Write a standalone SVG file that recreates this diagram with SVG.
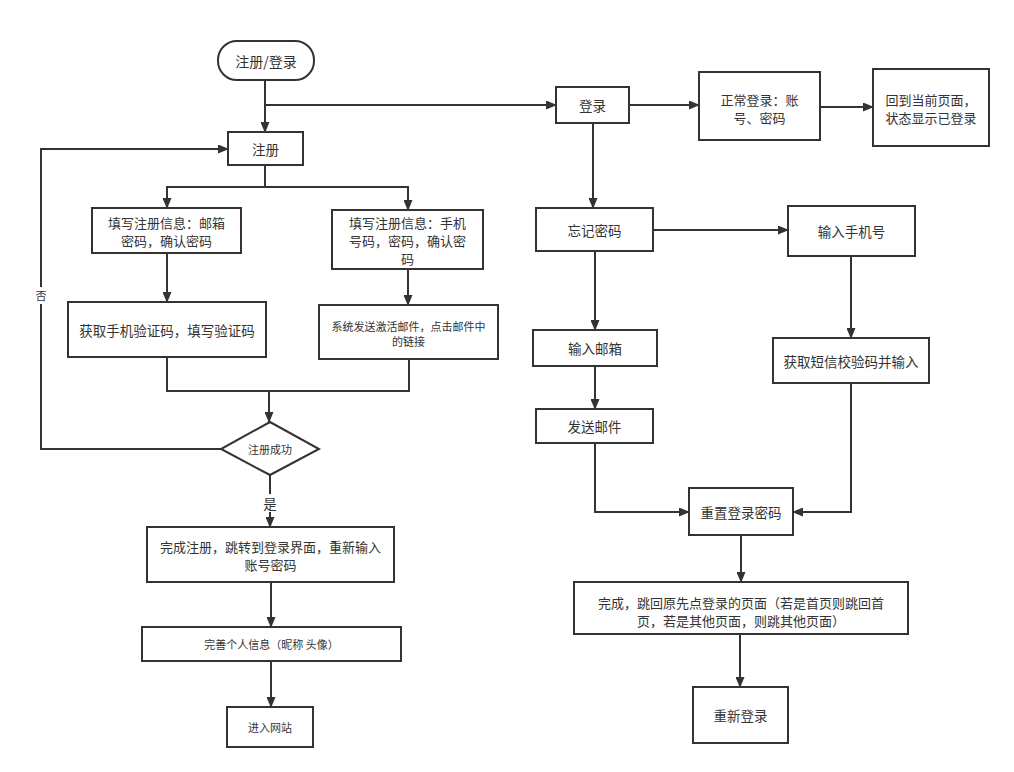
<svg xmlns="http://www.w3.org/2000/svg" width="1014" height="772" viewBox="0 0 1014 772">
<defs>
<marker id="arr" markerUnits="userSpaceOnUse" markerWidth="11" markerHeight="9" refX="10" refY="4.5" orient="auto">
<path d="M0,0 L11,4.5 L0,9 z" fill="#333"/>
</marker>
<style>
.box{fill:#fff;stroke:#333;stroke-width:2}
.t{font-family:"Noto Sans CJK SC","Noto Sans",sans-serif;font-size:13.5px;fill:#333;text-anchor:middle;dominant-baseline:central}
.m{font-size:13px}
.s{font-size:11px}
.c{fill:none;stroke:#333;stroke-width:2;marker-end:url(#arr)}
.n{fill:none;stroke:#333;stroke-width:2}
</style>
</defs>
<rect width="1014" height="772" fill="#fff"/>
<g id="connectors">
<path class="c" d="M265,80 V132"/>
<path class="c" d="M265,105 H556"/>
<path class="c" d="M265,165 V187 H167 V208"/>
<path class="c" d="M265,187 H408 V210"/>
<path class="c" d="M167,253 V302"/>
<path class="c" d="M408,269 V305"/>
<path class="c" d="M167,357 V391 H269 V422"/>
<path class="n" d="M409,359 V391 H269"/>
<path class="c" d="M221,449 H41 V149 H228"/>
<path class="c" d="M270,475 V527"/>
<path class="c" d="M271,582 V627"/>
<path class="c" d="M271,661 V707"/>
<path class="c" d="M629,105 H699"/>
<path class="c" d="M820,107 H873"/>
<path class="c" d="M593,123 V208"/>
<path class="c" d="M653,230 H788"/>
<path class="c" d="M595,251 V330"/>
<path class="c" d="M851,256 V338"/>
<path class="c" d="M595,366 V409"/>
<path class="c" d="M595,443 V512 H689"/>
<path class="c" d="M851,383 V512 H793"/>
<path class="c" d="M741,535 V582"/>
<path class="c" d="M740,634 V687"/>
<rect x="33" y="287" width="16" height="17" fill="#fff"/>
<text class="t s" x="41" y="295">否</text>
<rect x="262" y="494" width="16" height="18" fill="#fff"/>
<text class="t" x="270" y="503">是</text>
</g>
<g id="start"><rect class="box" x="218" y="41" width="96" height="39" rx="19"/><text class="t" x="266" y="61" style="font-size:14px">注册/登录</text></g>
<g id="register"><rect class="box" x="228" y="132" width="75" height="33"/><text class="t" x="265.5" y="149">注册</text></g>
<g id="fillEmail"><rect class="box" x="92" y="208" width="149" height="45"/><text class="t m" x="166.5" y="222">填写注册信息：邮箱</text><text class="t m" x="166.5" y="240">密码，确认密码</text></g>
<g id="fillPhone"><rect class="box" x="332" y="210" width="151" height="59"/><text class="t m" x="407.5" y="222">填写注册信息：手机</text><text class="t m" x="407.5" y="240">号码，密码，确认密</text><text class="t m" x="407.5" y="258">码</text></g>
<g id="getCode"><rect class="box" x="68" y="302" width="198" height="55"/><text class="t" x="167" y="330">获取手机验证码，填写验证码</text></g>
<g id="sendActivation"><rect class="box" x="319" y="305" width="179" height="54"/><text class="t s" x="408.5" y="326">系统发送激活邮件，点击邮件中</text><text class="t s" x="408.5" y="341">的链接</text></g>
<g id="regSuccess"><polygon class="box" points="270,422 319,449 270,475 221,449"/><text class="t s" x="270" y="449">注册成功</text></g>
<g id="finishReg"><rect class="box" x="147" y="527" width="247" height="55"/><text class="t m" x="270.5" y="546">完成注册，跳转到登录界面，重新输入</text><text class="t m" x="270.5" y="564">账号密码</text></g>
<g id="profile"><rect class="box" x="142" y="627" width="259" height="34"/><text class="t s" x="271.5" y="644">完善个人信息（昵称 头像）</text></g>
<g id="enterSite"><rect class="box" x="227" y="707" width="86" height="40"/><text class="t s" x="270" y="727">进入网站</text></g>
<g id="login"><rect class="box" x="556" y="87" width="73" height="36"/><text class="t" x="592.5" y="105">登录</text></g>
<g id="normalLogin"><rect class="box" x="699" y="72" width="121" height="68"/><text class="t m" x="759.5" y="99">正常登录：账</text><text class="t m" x="759.5" y="117">号、密码</text></g>
<g id="backPage"><rect class="box" x="873" y="69" width="116" height="77"/><text class="t m" x="931" y="99">回到当前页面，</text><text class="t m" x="931" y="117">状态显示已登录</text></g>
<g id="forgot"><rect class="box" x="536" y="208" width="117" height="43"/><text class="t" x="594.5" y="229.5">忘记密码</text></g>
<g id="inputPhone"><rect class="box" x="788" y="206" width="127" height="50"/><text class="t" x="851.5" y="231">输入手机号</text></g>
<g id="inputEmail"><rect class="box" x="533" y="330" width="124" height="36"/><text class="t" x="595" y="348">输入邮箱</text></g>
<g id="smsCode"><rect class="box" x="773" y="338" width="156" height="45"/><text class="t" x="851" y="361">获取短信校验码并输入</text></g>
<g id="sendEmail"><rect class="box" x="536" y="409" width="117" height="34"/><text class="t" x="594.5" y="426">发送邮件</text></g>
<g id="resetPwd"><rect class="box" x="689" y="488" width="104" height="47"/><text class="t" x="741" y="512">重置登录密码</text></g>
<g id="done"><rect class="box" x="574" y="582" width="334" height="52"/><text class="t m" x="741" y="602">完成，跳回原先点登录的页面（若是首页则跳回首</text><text class="t m" x="741" y="620">页，若是其他页面，则跳其他页面）</text></g>
<g id="relogin"><rect class="box" x="693" y="687" width="95" height="56"/><text class="t" x="740.5" y="715">重新登录</text></g>
</svg>
